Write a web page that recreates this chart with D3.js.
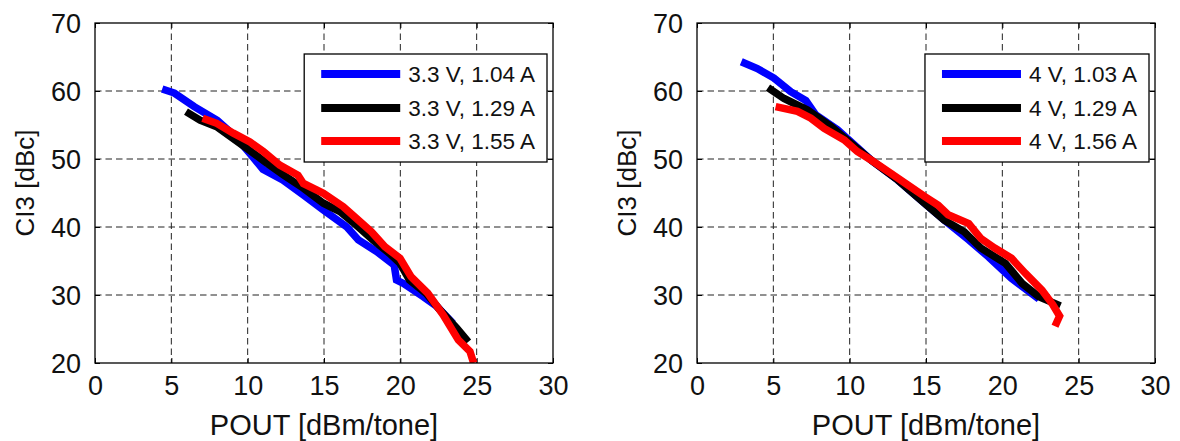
<!DOCTYPE html>
<html>
<head>
<meta charset="utf-8">
<script src="https://cdn.jsdelivr.net/npm/d3@7/dist/d3.min.js"></script>
<style>
  html, body { margin: 0; padding: 0; background: #fff; }
  svg { display: block; font-family: "Liberation Sans", Arial, Helvetica, sans-serif; }
</style>
</head>
<body>
<svg id="chart" width="1180" height="441"></svg>
<script>
// ---- Data ----
const xTicks = [0, 5, 10, 15, 20, 25, 30];
const yTicks = [20, 30, 40, 50, 60, 70];
const xLabel = "POUT [dBm/tone]";
const yLabel = "CI3 [dBc]";
const seriesColors = ["#0000ff", "#000000", "#ff0000"];

// Left panel (3.3 V)
const leftLabels = ["3.3 V, 1.04 A", "3.3 V, 1.29 A", "3.3 V, 1.55 A"];
const left1x = [4.4, 5.2, 6.5, 8.0, 9.2, 10.15, 11.0, 12.3, 13.65, 14.96, 16.5, 17.25, 18.45, 19.6, 19.75, 20.2, 21.5, 22.4, 23.46];
const left1y = [60.3, 59.7, 57.7, 55.7, 53.3, 50.8, 48.5, 46.9, 44.7, 42.5, 40.0, 38.1, 36.4, 34.4, 32.2, 31.7, 29.75, 28.3, 25.8];
const left2x = [5.96, 6.88, 7.97, 9.93, 11.24, 12.34, 13.65, 14.96, 16.05, 17.1, 18.2, 19.3, 19.98, 20.6, 21.7, 22.6, 23.7, 24.45];
const left2y = [56.96, 55.7, 54.75, 51.6, 49.4, 47.65, 45.7, 43.5, 42.25, 40.3, 38.1, 36.1, 34.65, 32.2, 30.2, 27.8, 25.1, 23.1];
const left3x = [7.05, 7.97, 9.06, 10.15, 11.03, 12.1, 13.3, 13.65, 14.96, 16.26, 17.1, 18.1, 18.99, 19.98, 20.7, 21.8, 22.8, 23.8, 24.56, 24.8];
const left3y = [56.0, 55.25, 53.8, 52.5, 51.1, 49.1, 47.6, 46.4, 44.95, 43.0, 41.3, 39.3, 37.1, 35.4, 32.7, 30.25, 27.1, 23.4, 21.7, 20.0];

// Right panel (4 V)
const rightLabels = ["4 V, 1.03 A", "4 V, 1.29 A", "4 V, 1.56 A"];
const right1x = [2.9, 3.95, 5.04, 6.14, 7.13, 7.78, 9.2, 10.1, 11.4, 13.16, 14.9, 16.2, 17.8, 19.1, 20.6, 22.4];
const right1y = [64.3, 63.3, 61.9, 59.9, 58.6, 56.5, 54.3, 52.5, 49.85, 46.9, 43.5, 41.0, 38.1, 35.6, 32.45, 29.4];
const right2x = [4.65, 5.7, 7.24, 8.8, 10.1, 11.4, 13.16, 14.9, 16.2, 17.5, 18.6, 20.2, 21.3, 22.4, 23.8];
const right2y = [60.5, 58.9, 57.2, 54.75, 52.3, 49.85, 46.9, 43.5, 41.0, 39.3, 36.9, 34.65, 31.7, 29.75, 28.4];
const right3x = [5.15, 6.58, 7.46, 8.33, 9.65, 10.5, 11.4, 12.7, 13.8, 14.9, 15.8, 16.45, 17.8, 18.6, 19.5, 20.6, 21.5, 22.6, 23.3, 23.75, 23.45];
const right3y = [57.7, 57.0, 56.0, 54.5, 52.8, 51.1, 49.85, 47.9, 46.2, 44.5, 43.2, 41.8, 40.5, 38.3, 36.9, 35.4, 33.2, 30.7, 28.6, 26.9, 25.4];

const leftSeries = [[left1x, left1y], [left2x, left2y], [left3x, left3y]];
const rightSeries = [[right1x, right1y], [right2x, right2y], [right3x, right3y]];

// ---- Drawing ----
const svg = d3.select("#chart");
const plotTop = 23, plotBottom = 363;

function panel(x0, x1, series, labels, idx) {
  const xs = d3.scaleLinear().domain([0, 30]).range([x0, x1]);
  const ys = d3.scaleLinear().domain([20, 70]).range([plotBottom, plotTop]);
  const g = svg.append("g");

  const clipId = "clip" + idx;
  svg.append("defs").append("clipPath").attr("id", clipId)
    .append("rect").attr("x", x0).attr("y", plotTop).attr("width", x1 - x0).attr("height", plotBottom - plotTop);

  // grid
  g.append("g").selectAll("line").data(xTicks.filter(t => t > 0 && t < 30)).join("line")
    .attr("x1", d => xs(d)).attr("x2", d => xs(d)).attr("y1", plotTop).attr("y2", plotBottom)
    .attr("stroke", "#222").attr("stroke-width", 1).attr("stroke-dasharray", "6.5,4");
  g.append("g").selectAll("line").data(yTicks.filter(t => t > 20 && t < 70)).join("line")
    .attr("y1", d => ys(d)).attr("y2", d => ys(d)).attr("x1", x0).attr("x2", x1)
    .attr("stroke", "#222").attr("stroke-width", 1).attr("stroke-dasharray", "6.5,4");

  // axes (inward ticks)
  const ax = g.append("g").attr("transform", `translate(0,${plotBottom})`)
    .call(d3.axisBottom(xs).tickValues(xTicks).tickSizeInner(-5).tickSizeOuter(0).tickPadding(13));
  const ay = g.append("g").attr("transform", `translate(${x0},0)`)
    .call(d3.axisLeft(ys).tickValues(yTicks).tickSizeInner(-5).tickSizeOuter(0).tickPadding(14));
  const axT = g.append("g").attr("transform", `translate(0,${plotTop})`)
    .call(d3.axisTop(xs).tickValues(xTicks).tickSizeInner(-5).tickSizeOuter(0).tickFormat(""));
  const ayR = g.append("g").attr("transform", `translate(${x1},0)`)
    .call(d3.axisRight(ys).tickValues(yTicks).tickSizeInner(-5).tickSizeOuter(0).tickFormat(""));
  [ax, ay, axT, ayR].forEach(a => {
    a.select(".domain").remove();
    a.selectAll(".tick line").attr("stroke", "#000");
    a.selectAll("text").attr("font-size", 27).attr("fill", "#111").attr("font-family", "Liberation Sans, Arial, sans-serif");
  });
  ay.selectAll("text").attr("dy", "0.35em");

  // lines
  const lineGen = d3.line().x(d => xs(d[0])).y(d => ys(d[1]));
  const lg = g.append("g").attr("clip-path", `url(#${clipId})`);
  series.forEach((s, i) => {
    const pts = s[0].map((v, k) => [v, s[1][k]]);
    lg.append("path").datum(pts).attr("d", lineGen)
      .attr("fill", "none").attr("stroke", seriesColors[i]).attr("stroke-width", 7.5)
      .attr("stroke-linejoin", "miter").attr("stroke-miterlimit", 4).attr("stroke-linecap", "butt");
  });

  // frame
  g.append("rect").attr("x", x0).attr("y", plotTop).attr("width", x1 - x0).attr("height", plotBottom - plotTop)
    .attr("fill", "none").attr("stroke", "#000").attr("stroke-width", 1.3);

  // axis labels
  g.append("text").attr("x", (x0 + x1) / 2).attr("y", 435).attr("text-anchor", "middle")
    .attr("font-size", 29).attr("fill", "#111").text(xLabel);
  g.append("text").attr("transform", `translate(${x0 - 61},183) rotate(-90)`).attr("text-anchor", "middle")
    .attr("font-size", 26).attr("fill", "#111").text(yLabel);

  // legend
  const leg = g.append("g");
  const boxTop = 54, boxH = 108;
  const box = leg.append("rect").attr("y", boxTop).attr("height", boxH)
    .attr("fill", "#fff").attr("stroke", "#000").attr("stroke-width", 1.3);
  const rowY = [74, 108, 141];
  let maxW = 0;
  const items = labels.map((lab, i) => {
    const ln = leg.append("line").attr("y1", rowY[i]).attr("y2", rowY[i])
      .attr("stroke", seriesColors[i]).attr("stroke-width", 8);
    const tx = leg.append("text").attr("y", rowY[i] + 8).attr("font-size", 22.5).attr("fill", "#111").text(lab);
    maxW = Math.max(maxW, tx.node().getComputedTextLength());
    return [ln, tx];
  });
  const boxW = 104 + maxW + 12;
  const bx = x1 - 6 - boxW;
  box.attr("x", bx).attr("width", boxW);
  items.forEach(([ln, tx]) => {
    ln.attr("x1", bx + 17).attr("x2", bx + 96);
    tx.attr("x", bx + 104);
  });
}

panel(95, 553, leftSeries, leftLabels, 0);
panel(697, 1155, rightSeries, rightLabels, 1);
</script>
</body>
</html>
